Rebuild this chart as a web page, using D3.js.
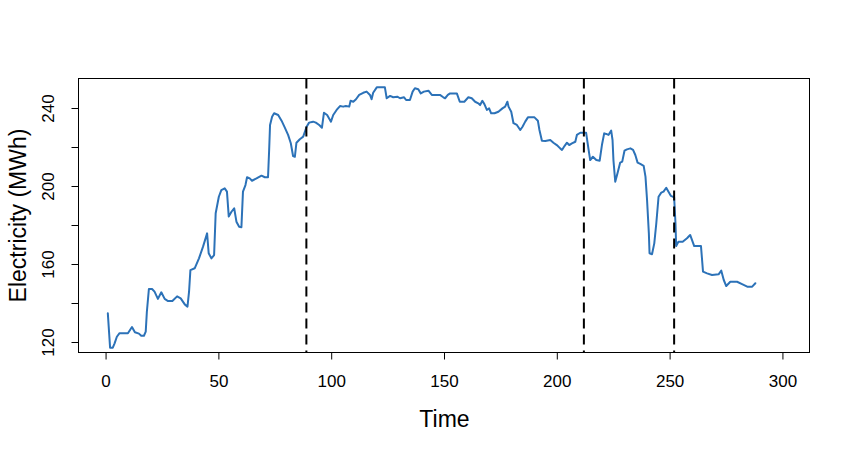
<!DOCTYPE html>
<html>
<head>
<meta charset="utf-8">
<script src="https://cdn.jsdelivr.net/npm/d3@7"></script>
<style>
  html, body { margin: 0; padding: 0; background: #ffffff; }
  svg { display: block; }
  text { font-family: "Liberation Sans", Arial, sans-serif; fill: #000; }
</style>
</head>
<body>
<svg id="chart" width="850" height="450"></svg>
<script>
// ---- data ----
const timeValues = [
  1, 2, 3.2, 4, 5, 6.2, 7.7, 9.9, 11.7, 13, 14.8, 15.8, 17, 17.8, 18.3, 19.2, 20.6, 21.7, 23.2, 24.7,
  26.2, 27.7, 29.6, 31.7, 33.3, 35.1, 36.3, 37, 37.6, 39.5, 41.4, 43.2, 45, 45.7, 46.9, 48.1, 48.8, 50.2, 51.3, 52.8,
  53.8, 54.6, 55.8, 57, 58, 59.2, 60.2, 60.9, 62, 62.7, 63.9, 64.9, 66.9, 69.1, 70.6, 72, 72.5, 72.9, 73.8, 74.7,
  76.5, 78, 79.4, 80.9, 82.1, 83.1, 83.9, 84.6, 86.1, 87.6, 89.1, 90.2, 92, 93.2, 94.7, 95.9, 96.8, 98.2, 99.9, 100.9,
  102.4, 103.9, 105.3, 106.5, 108, 108.6, 109.8, 111, 112.4, 114.2, 115.7, 117.2, 117.9, 118.6, 120.2, 121.6, 123.8, 124.6, 126.1, 127.5,
  129.3, 130.5, 132.3, 133.2, 134.9, 136.1, 137.1, 138.6, 139.7, 141.1, 143.1, 144.6, 146.8, 148.2, 149.7, 150.5, 151.7, 152.7, 155.7, 157,
  159, 160.8, 162.3, 163.8, 165.2, 166, 167, 167.9, 169, 170, 170.9, 172.4, 174.1, 175.9, 177.1, 178.1, 178.6, 179.8, 180.8, 182.3,
  183.8, 184.8, 186, 187.2, 190.1, 191.6, 192.3, 193.4, 194.9, 197.1, 198.5, 200, 201.5, 202.3, 203.4, 204.5, 205.5, 206.7, 208.2, 208.9,
  210.4, 213, 214, 214.8, 216, 217.5, 219, 220, 221, 221.9, 222.9, 224.1, 224.7, 225.1, 225.9, 226.9, 228.1, 229, 230, 231.1,
  232.6, 233.8, 234.8, 235.8, 237, 238.5, 239.3, 240, 240.8, 241.1, 242.2, 243.2, 244.1, 245.1, 246.3, 247.3, 248.5, 249.5, 250.6, 252,
  252.6, 252.9, 253.9, 255.8, 257.7, 259.1, 260.9, 263.9, 264.8, 266.6, 268.8, 271.7, 272.9, 274, 275.1, 276.9, 279.9, 282.1, 284.4, 286.6,
  288
];
const electricityValues = [
  134.7, 117.1, 117.1, 119.3, 122.7, 124.5, 124.5, 124.5, 127.7, 125, 124.3, 123.2, 123.2, 125.3, 135.5, 147.2, 147.2, 145.8, 142.1, 145.5,
  142.1, 141, 141, 143.4, 142.4, 139.3, 138.1, 145.8, 156.9, 157.8, 162.9, 168.9, 175.7, 165.5, 162.9, 164.6, 186, 194.5, 197.9, 198.8,
  197.1, 184.3, 186.8, 188.6, 181.7, 179.1, 178.8, 197.1, 200.5, 204.5, 203.9, 202.7, 203.9, 205.3, 204.5, 204.5, 218.5, 231.3, 235.5, 237.3,
  236.4, 233.5, 230.1, 226.2, 221.9, 215.4, 215, 222.2, 224, 225.3, 230.4, 232.5, 233, 232.5, 231.3, 229.9, 237.6, 236.4, 233, 236.4,
  239, 241, 240.7, 241, 240.7, 243.7, 243.2, 244.5, 246.7, 247.8, 248.4, 246.7, 244.5, 247.8, 250.6, 250.6, 250.6, 245, 246.2, 245.5,
  245.8, 245, 245.5, 244.1, 244.1, 248.4, 250.1, 249.6, 247.5, 248.4, 248.9, 246.7, 246.7, 246.7, 245.5, 245, 246.7, 247.5, 247.5, 243.2,
  243.2, 245.5, 245, 243.2, 242.4, 241.5, 243.7, 242, 239, 239.8, 237.3, 237.3, 238.1, 239.8, 240.7, 243.2, 240.7, 238.1, 232.2, 231.3,
  228.7, 230.4, 233, 235.2, 235.2, 233.5, 228.7, 223.2, 223.1, 223.6, 222.2, 221, 219.3, 218.5, 220.5, 222.2, 221, 221.9, 222.7, 226.2,
  227.3, 227.3, 219.3, 213.3, 215, 213.3, 213, 221, 227, 226.7, 226.2, 228.4, 223.6, 213.3, 202.2, 206.5, 212, 212.5, 218.1, 218.8,
  219.3, 218.5, 215.9, 212, 211.3, 210.3, 204.8, 192.8, 175.7, 165.5, 165, 170.6, 180.9, 194.5, 196.6, 197.1, 199.1, 197.1, 194.9, 194.2,
  180.9, 169.2, 171.4, 171.4, 173.2, 174.9, 169.2, 169.2, 156.1, 155.2, 154.4, 154.7, 156.6, 151.8, 148.7, 150.9, 150.9, 149.7, 148.4, 148.4,
  150.1
];
const breakTimes = [89, 212, 252];
const xTickValues = [0, 50, 100, 150, 200, 250, 300];
const yTickValues = [120, 140, 160, 180, 200, 220, 240];
const yTickLabels = ["120", "", "160", "", "200", "", "240"];
const xTitle = "Time";
const yTitle = "Electricity (MWh)";

// ---- drawing ----
const svg = d3.select("#chart");
const plotLeft = 78.5, plotRight = 809.5, plotTop = 78.5, plotBottom = 352.5;

const x = d3.scaleLinear().domain([-12, 312]).range([plotLeft, plotRight]);
const y = d3.scaleLinear().domain([114.62, 255.13]).range([plotBottom, plotTop]);

const data = timeValues.map((t, i) => ({ t, v: electricityValues[i] }));

svg.append("defs").append("clipPath").attr("id", "plotclip")
  .append("rect").attr("x", plotLeft).attr("y", plotTop)
  .attr("width", plotRight - plotLeft).attr("height", plotBottom - plotTop);

const line = d3.line().x(d => x(d.t)).y(d => y(d.v));
svg.append("path")
  .datum(data)
  .attr("clip-path", "url(#plotclip)")
  .attr("fill", "none")
  .attr("stroke", "#2c72b8")
  .attr("stroke-width", 2)
  .attr("stroke-linejoin", "round")
  .attr("stroke-linecap", "round")
  .attr("d", line);

svg.append("g").selectAll("line").data(breakTimes).join("line")
  .attr("x1", d => x(d)).attr("x2", d => x(d))
  .attr("y1", plotTop).attr("y2", plotBottom)
  .attr("stroke", "#000")
  .attr("stroke-width", 2)
  .attr("stroke-dasharray", "10,6");

svg.append("rect")
  .attr("x", plotLeft).attr("y", plotTop)
  .attr("width", plotRight - plotLeft).attr("height", plotBottom - plotTop)
  .attr("fill", "none").attr("stroke", "#000").attr("stroke-width", 1);

const xAxis = d3.axisBottom(x).tickValues(xTickValues).tickSize(7).tickPadding(15).tickFormat(d3.format("d"));
const gx = svg.append("g").attr("transform", `translate(0,${plotBottom})`).call(xAxis);
gx.select(".domain").remove();
gx.selectAll(".tick line").attr("stroke", "#000");
gx.selectAll(".tick text").attr("font-size", "17px").attr("font-family", "Liberation Sans, Arial, sans-serif").attr("fill", "#000");

const yAxis = d3.axisLeft(y).tickValues(yTickValues).tickSize(7)
  .tickFormat((d, i) => yTickLabels[i]);
const gy = svg.append("g").attr("transform", `translate(${plotLeft},0)`).call(yAxis);
gy.select(".domain").remove();
gy.selectAll(".tick line").attr("stroke", "#000");
gy.selectAll(".tick text")
  .attr("font-size", "17px")
  .attr("font-family", "Liberation Sans, Arial, sans-serif")
  .attr("fill", "#000")
  .attr("x", null).attr("dy", null)
  .attr("text-anchor", "middle")
  .attr("transform", "translate(-25,0) rotate(-90)")
  .attr("y", 0);

svg.append("text")
  .attr("x", (x(0) + x(300)) / 2 + 0.5)
  .attr("y", 427)
  .attr("text-anchor", "middle")
  .attr("font-size", "23px")
  .text(xTitle);

svg.append("text")
  .attr("transform", `translate(26,${(plotTop + plotBottom) / 2}) rotate(-90)`)
  .attr("text-anchor", "middle")
  .attr("font-size", "23px")
  .text(yTitle);
</script>
</body>
</html>
